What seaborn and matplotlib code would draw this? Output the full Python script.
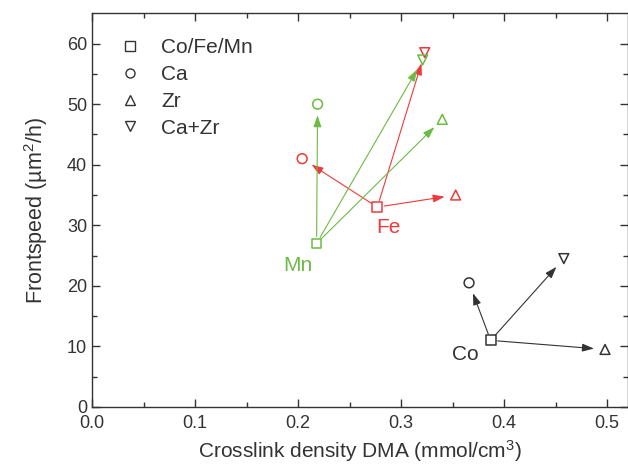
import matplotlib
matplotlib.use("Agg")
import matplotlib.pyplot as plt
from matplotlib.lines import Line2D
import seaborn as sns
import pandas as pd

# Base catalyst and additive combinations
metals = ["Co", "Fe", "Mn"]
additives = ["Co/Fe/Mn", "Ca", "Zr", "Ca+Zr"]

# Crosslink density (mmol/cm3) per metal, in additive order
density = {
    "Co": [0.387, 0.366, 0.498, 0.458],
    "Fe": [0.277, 0.204, 0.353, 0.323],
    "Mn": [0.218, 0.219, 0.340, 0.321],
}
# Front speed (um^2/h) per metal, in additive order
speed = {
    "Co": [11.0, 20.5, 9.5, 24.5],
    "Fe": [33.0, 41.0, 35.0, 58.5],
    "Mn": [27.0, 50.0, 47.5, 57.3],
}

colors = {"Co": "#333333", "Fe": "#ee3a3a", "Mn": "#6cbb45"}
marker_map = {"Co/Fe/Mn": "s", "Ca": "o", "Zr": "^", "Ca+Zr": "v"}
label_pos = {"Co": (0.349, 8.6), "Fe": (0.276, 29.6), "Mn": (0.186, 23.3)}

rows = []
for m in metals:
    for a, xv, yv in zip(additives, density[m], speed[m]):
        rows.append({"metal": m, "additive": a, "density": xv, "speed": yv})
df = pd.DataFrame(rows)

sns.set_theme(style="ticks")
plt.rcParams["font.family"] = ["Liberation Sans", "DejaVu Sans"]
plt.rcParams["mathtext.fontset"] = "custom"
plt.rcParams["mathtext.rm"] = "Liberation Sans"

fig = plt.figure(figsize=(6.28, 4.67), dpi=100)
ax = fig.add_axes([0.1465, 0.1285, 0.853, 0.843])

for m in metals:
    sub = df[df.metal == m]
    sns.scatterplot(data=sub, x="density", y="speed", style="additive",
                    markers=marker_map, style_order=additives,
                    s=50, facecolor="none", edgecolor=colors[m],
                    linewidth=1.1, legend=False, ax=ax, zorder=3)
    x0, y0 = density[m][0], speed[m][0]
    for xv, yv in zip(density[m][1:], speed[m][1:]):
        ax.annotate("", xy=(xv, yv), xytext=(x0, y0),
                    arrowprops=dict(arrowstyle="-|>,head_length=0.5,head_width=0.17",
                                    color=colors[m], lw=0.8, shrinkA=5,
                                    shrinkB=8, mutation_scale=14))
    ax.text(*label_pos[m], m, color=colors[m], fontsize=15,
            ha="left", va="center")

ax.set_xlim(0, 0.52)
ax.set_ylim(0, 65)
ax.set_xticks([0.0, 0.1, 0.2, 0.3, 0.4, 0.5])
ax.set_xticks([0.05, 0.15, 0.25, 0.35, 0.45], minor=True)
ax.set_yticks(range(0, 61, 10))
ax.set_yticks(range(5, 65, 10), minor=True)
ax.tick_params(which="both", direction="in", top=True, right=True,
               labelsize=13, colors="#333333", labelcolor="#333333", width=1)
ax.tick_params(which="major", length=6)
ax.tick_params(which="minor", length=3.5)
ax.tick_params(axis="x", which="major", pad=6)
for sp in ax.spines.values():
    sp.set_color("#333333")
    sp.set_linewidth(1)

ax.set_xlabel("Crosslink density DMA (mmol/cm$\\mathregular{^3}$)",
              fontsize=15, color="#333333", labelpad=4)
ax.set_ylabel("Frontspeed (µm$\\mathregular{^2}$/h)", fontsize=15.5,
              color="#333333", labelpad=12)

handles = [Line2D([], [], linestyle="none", marker=marker_map[a],
                  markerfacecolor="none", markeredgecolor="#333333",
                  markersize=6.5, markeredgewidth=1) for a in additives]
leg = ax.legend(handles, additives, loc="upper left", frameon=False,
                fontsize=15, handletextpad=0.7, labelspacing=0.38,
                handlelength=1.6, bbox_to_anchor=(0.005, 0.985))
for t in leg.get_texts():
    t.set_color("#333333")

fig.savefig("out.png", dpi=100)
